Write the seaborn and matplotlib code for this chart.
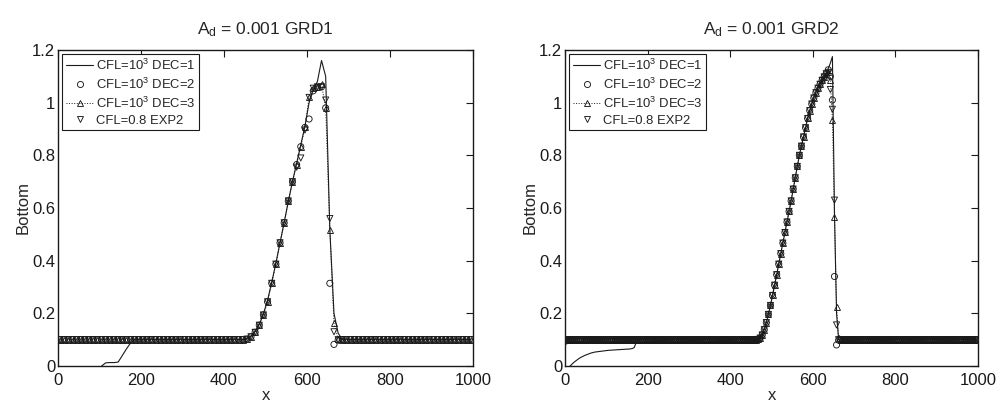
import numpy as np
import pandas as pd
import matplotlib
matplotlib.use("Agg")
import matplotlib.pyplot as plt
from matplotlib.lines import Line2D
import seaborn as sns

# ---------------- data: GRD1 (dx = 10) ----------------
x_grd1 = np.arange(5, 1000, 10)  # cell centres

g1_dec2_peak = [0.102, 0.111, 0.128, 0.155, 0.194, 0.244, 0.314, 0.387, 0.468, 0.544, 0.627, 0.700,
                0.765, 0.833, 0.906, 0.938, 1.045, 1.058, 1.06, 0.98, 0.314, 0.082, 0.098, 0.1]
g1_dec3_peak = [0.102, 0.111, 0.128, 0.155, 0.194, 0.244, 0.314, 0.387, 0.468, 0.544, 0.627, 0.700,
                0.765, 0.833, 0.906, 1.02, 1.055, 1.06, 1.07, 0.98, 0.516, 0.162, 0.102, 0.1]
g1_exp2_peak = [0.102, 0.111, 0.128, 0.155, 0.194, 0.244, 0.314, 0.387, 0.468, 0.544, 0.627, 0.700,
                0.755, 0.79, 0.896, 1.02, 1.055, 1.06, 1.06, 1.01, 0.56, 0.13, 0.10, 0.1]
g1_dec1_peak = [0.102, 0.112, 0.13, 0.158, 0.198, 0.25, 0.318, 0.39, 0.468, 0.545, 0.625, 0.70,
                0.77, 0.84, 0.91, 1.0, 1.05, 1.08, 1.16, 1.10, 0.52, 0.2, 0.125, 0.1]
g1_dec1_start = [-0.05] * 10 + [0.0, 0.012, 0.013, 0.013, 0.015, 0.04, 0.065, 0.088]

g1_dec2 = [0.1] * 45 + g1_dec2_peak + [0.1] * 31
g1_dec3 = [0.1] * 45 + g1_dec3_peak + [0.1] * 31
g1_exp2 = [0.1] * 45 + g1_exp2_peak + [0.1] * 31
g1_dec1 = g1_dec1_start + [0.1] * 27 + g1_dec1_peak + [0.1] * 31

# ---------------- data: GRD2 (dx = 5) ----------------
x_grd2 = np.arange(2.5, 1000, 5)

g2_rise = [0.1, 0.101, 0.106, 0.118, 0.138, 0.165, 0.196, 0.23, 0.268, 0.307, 0.347, 0.387,
           0.427, 0.467, 0.507, 0.547, 0.587, 0.627, 0.672, 0.715, 0.758, 0.80, 0.835, 0.87,
           0.905, 0.94, 0.97, 0.995, 1.018, 1.038, 1.055, 1.07, 1.085, 1.098, 1.11]
g2_dec2_tail = [1.125, 1.10, 1.01, 0.34, 0.08, 0.098, 0.1]
g2_dec3_tail = [1.115, 1.085, 0.935, 0.567, 0.225, 0.105, 0.1]
g2_exp2_tail = [1.115, 1.05, 0.975, 0.63, 0.156, 0.1, 0.1]
g2_dec1_tail = [1.13, 1.15, 1.175, 0.58, 0.2, 0.1, 0.1]
g2_dec1_start = [-0.02, -0.008, 0.0, 0.008, 0.015, 0.021, 0.027, 0.032, 0.036, 0.04, 0.043, 0.046,
                 0.049, 0.051, 0.053, 0.054, 0.055, 0.056, 0.057, 0.058, 0.059, 0.06, 0.06, 0.061,
                 0.061, 0.062, 0.062, 0.063, 0.063, 0.064, 0.064, 0.065, 0.066, 0.07, 0.09, 0.1]

g2_dec2 = [0.095] + [0.1] * 91 + g2_rise + g2_dec2_tail + [0.1] * 66
g2_dec3 = [0.1] * 92 + g2_rise + g2_dec3_tail + [0.1] * 66
g2_exp2 = [0.1] * 92 + g2_rise + g2_exp2_tail + [0.1] * 66
g2_dec1 = g2_dec1_start + [0.1] * 56 + g2_rise + g2_dec1_tail + [0.1] * 66

titles = ["A$_d$ = 0.001 GRD1", "A$_d$ = 0.001 GRD2"]
legend_labels = ["CFL=10$^3$ DEC=1", "CFL=10$^3$ DEC=2", "CFL=10$^3$ DEC=3", "CFL=0.8 EXP2"]
xticks = [0, 200, 400, 600, 800, 1000]
yticks = [0, 0.2, 0.4, 0.6, 0.8, 1.0, 1.2]
yticklabels = ["0", "0.2", "0.4", "0.6", "0.8", "1", "1.2"]

# ---------------- style ----------------
sns.set_theme(style="white")
plt.rcParams["font.family"] = ["Liberation Sans", "DejaVu Sans"]
plt.rcParams["mathtext.default"] = "regular"

fig = plt.figure(figsize=(10.04, 4.08), dpi=100)
ax1 = fig.add_axes([58 / 1004, 42 / 408, 415 / 1004, 316 / 408])
ax2 = fig.add_axes([565 / 1004, 42 / 408, 413 / 1004, 316 / 408])

panels = [
    (ax1, x_grd1, g1_dec1, g1_dec2, g1_dec3, g1_exp2, titles[0]),
    (ax2, x_grd2, g2_dec1, g2_dec2, g2_dec3, g2_exp2, titles[1]),
]

ms = 4.4
mew = 0.65
for ax, xs, d1, d2, d3, e2, title in panels:
    sns.lineplot(x=xs, y=d1, ax=ax, color="k", lw=0.8, sort=False, estimator=None)
    sns.scatterplot(x=xs, y=d2, ax=ax, marker="o", s=ms ** 2, facecolors="none",
                    edgecolor="k", linewidths=mew, zorder=3)
    sns.lineplot(x=xs, y=d3, ax=ax, color="k", lw=0.7, linestyle=":", marker="^",
                 markersize=ms, markerfacecolor="none", markeredgecolor="k",
                 markeredgewidth=mew, sort=False, estimator=None, zorder=3)
    sns.scatterplot(x=xs, y=e2, ax=ax, marker="v", s=ms ** 2, facecolors="none",
                    edgecolor="k", linewidths=mew, zorder=3)

    ax.set_xlim(0, 1000)
    ax.set_ylim(0, 1.2)
    ax.set_xticks(xticks)
    ax.set_xticklabels([str(t) for t in xticks])
    ax.set_yticks(yticks)
    ax.set_yticklabels(yticklabels)
    ax.tick_params(direction="in", length=5, width=0.8, top=True, right=True,
                   labelsize=12, colors="k")
    ax.tick_params(axis="x", pad=5)
    ax.tick_params(axis="y", pad=2)
    for sp in ax.spines.values():
        sp.set_color("k")
        sp.set_linewidth(1.0)
        sp.set_visible(True)
    ax.set_xlabel("x", fontsize=12, labelpad=0)
    ax.set_ylabel("Bottom", fontsize=12, labelpad=1)
    ax.set_title(title, fontsize=12.5, pad=11)

    handles = [
        Line2D([], [], color="k", lw=0.8),
        Line2D([], [], color="k", ls="none", marker="o", markersize=ms,
               markerfacecolor="none", markeredgewidth=mew),
        Line2D([], [], color="k", lw=0.7, ls=":", marker="^", markersize=ms,
               markerfacecolor="none", markeredgewidth=mew),
        Line2D([], [], color="k", ls="none", marker="v", markersize=ms,
               markerfacecolor="none", markeredgewidth=mew),
    ]
    leg = ax.legend(handles, legend_labels, loc="upper left", fontsize=9.4,
                    frameon=True, fancybox=False, edgecolor="k", framealpha=1,
                    handlelength=2.1, handletextpad=0.2, labelspacing=0.28,
                    borderpad=0.3, borderaxespad=0.3)
    leg.get_frame().set_linewidth(0.8)

fig.savefig("out.png", dpi=100)
